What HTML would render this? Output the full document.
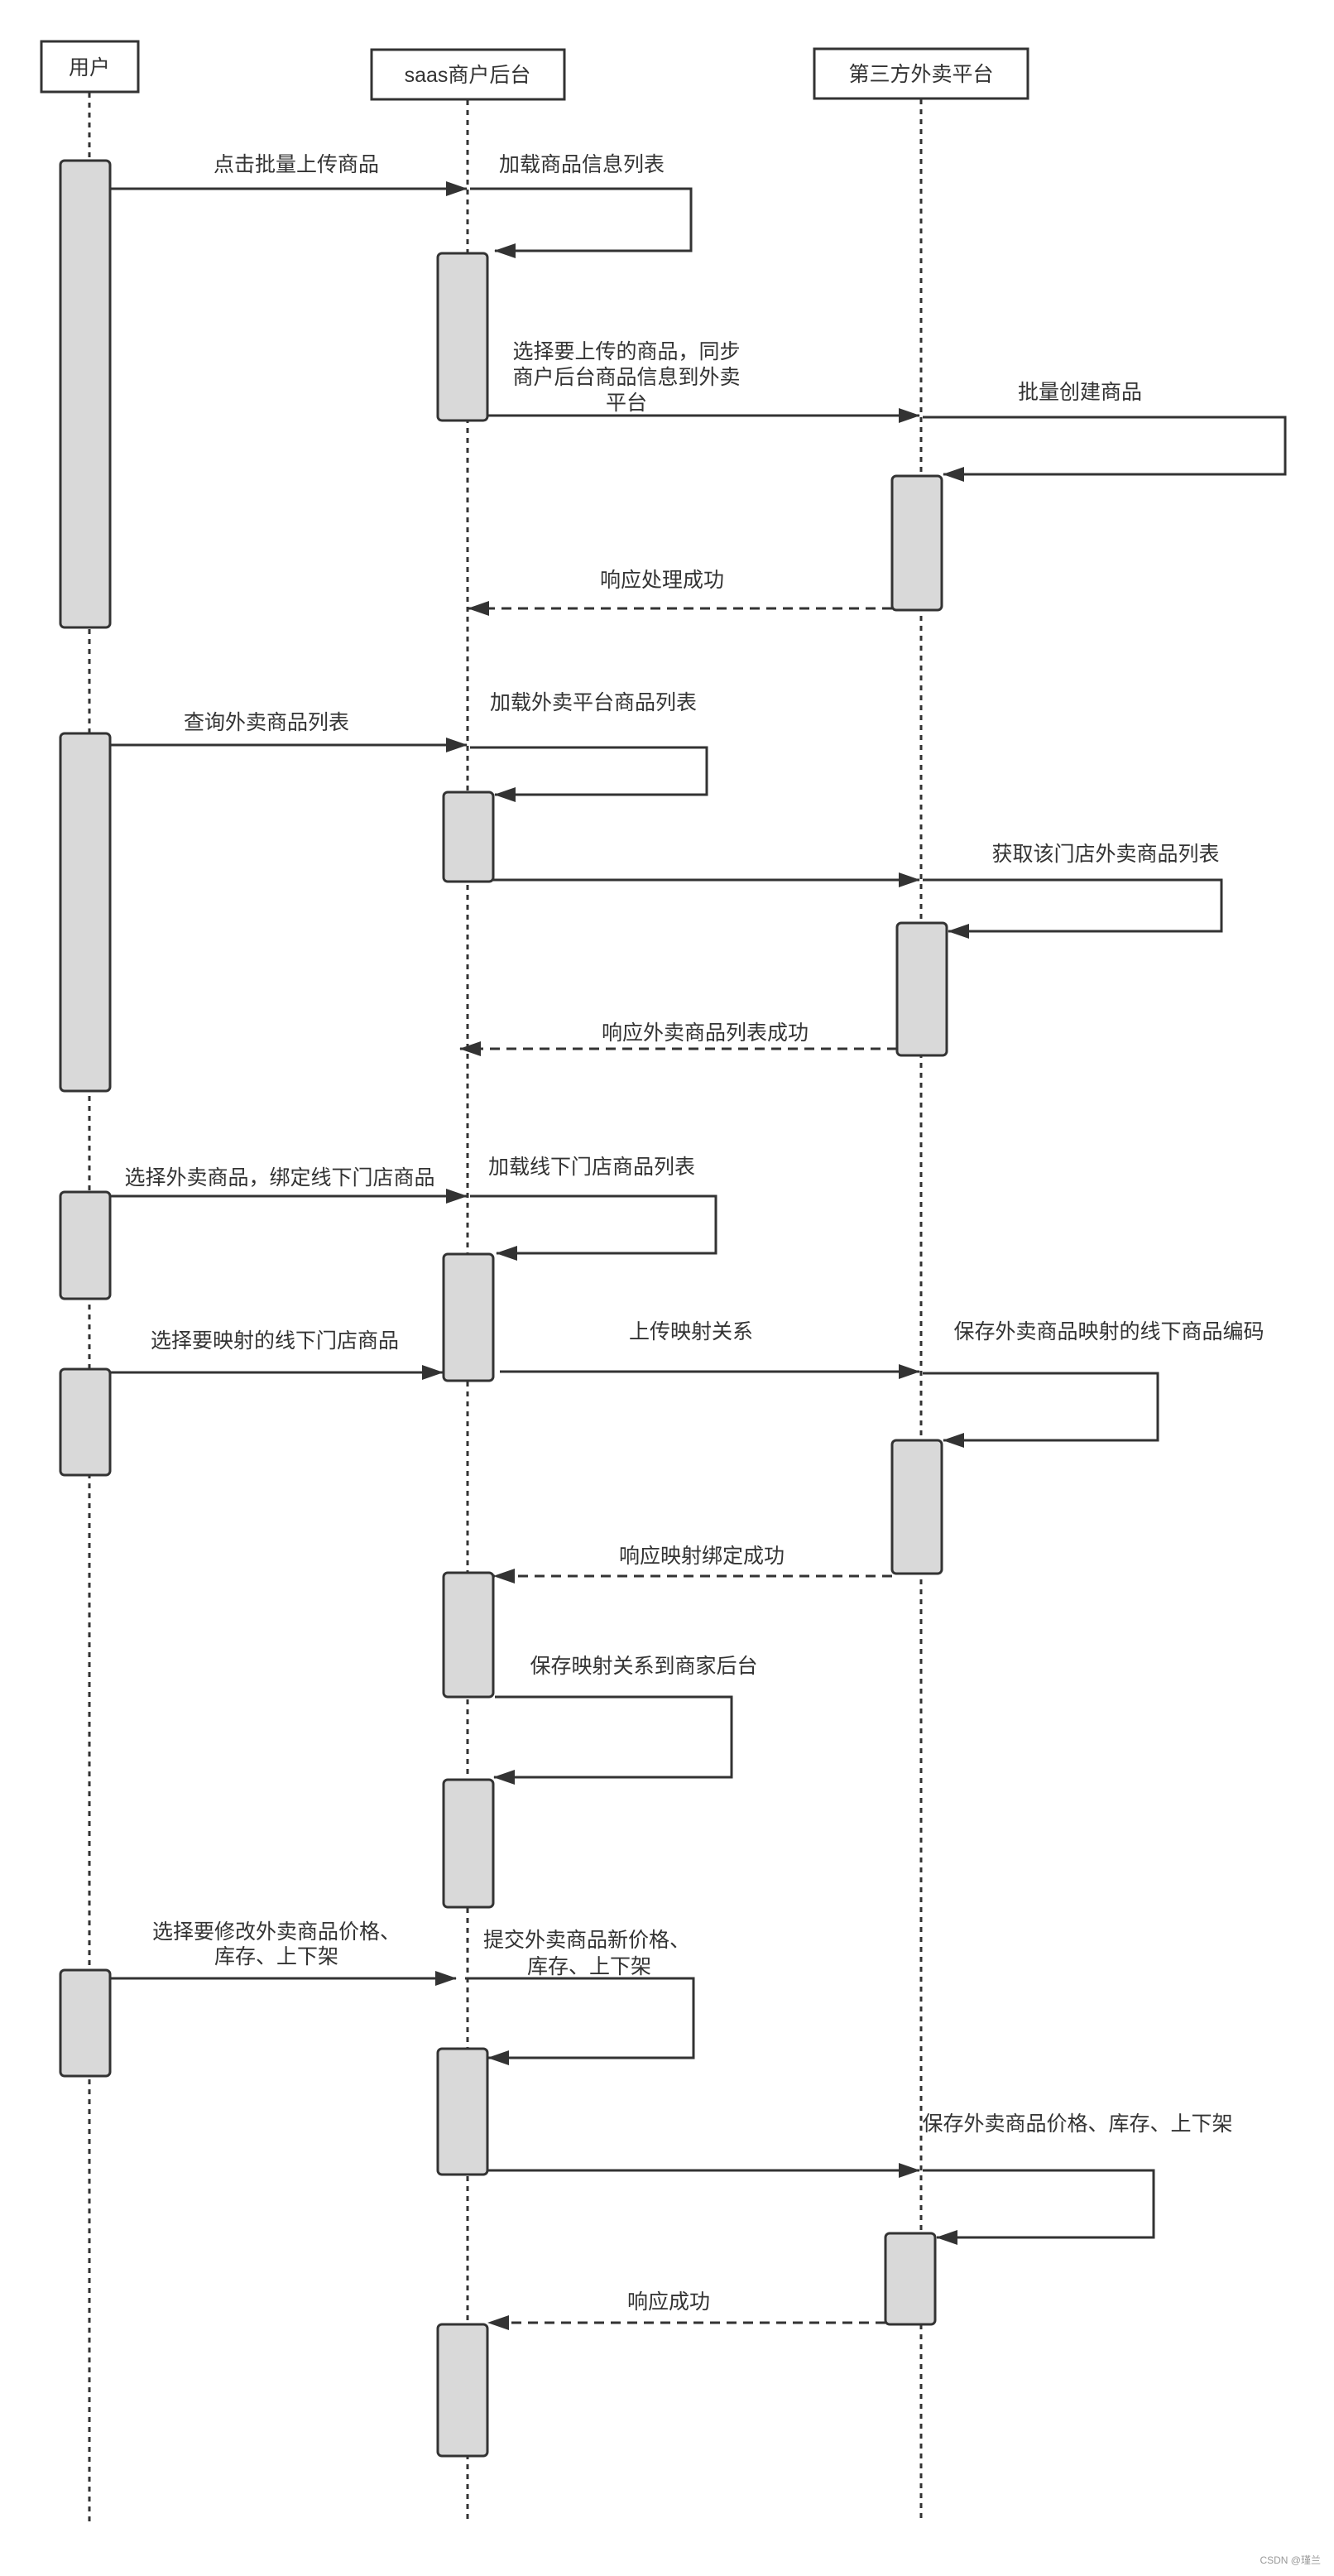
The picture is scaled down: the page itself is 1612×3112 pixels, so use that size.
<!DOCTYPE html>
<html><head><meta charset="utf-8"><style>
html,body{margin:0;padding:0;background:#fff;}
svg{display:block;}
text{font-family:"Liberation Sans","Noto Sans CJK SC",sans-serif;font-size:25px;fill:#333;}
</style></head><body>
<svg width="1612" height="3112" viewBox="0 0 1612 3112" xmlns="http://www.w3.org/2000/svg">
<defs>
<marker id="ah" markerWidth="26" markerHeight="20" refX="25" refY="10" orient="auto" markerUnits="userSpaceOnUse">
<path d="M0,1 L26,10 L0,19 Z" fill="#333"/>
</marker>
</defs>
<g fill="#fff" stroke="#333" stroke-width="3">
<rect x="50" y="50" width="117" height="61"/>
<rect x="449" y="60" width="233" height="60"/>
<rect x="984" y="59" width="258" height="60"/>
</g>
<text x="108" y="90" text-anchor="middle">用户</text>
<text x="565" y="99" text-anchor="middle">saas商户后台</text>
<text x="1113" y="98" text-anchor="middle">第三方外卖平台</text>
<g stroke="#333" stroke-width="3" stroke-dasharray="6 6">
<line x1="108" y1="112" x2="108" y2="3050"/>
<line x1="565" y1="121" x2="565" y2="3046"/>
<line x1="1113" y1="120" x2="1113" y2="3046"/>
</g>
<g fill="#d9d9d9" stroke="#333" stroke-width="3">
<rect x="73" y="194" width="60" height="564" rx="5"/>
<rect x="73" y="886" width="60" height="432" rx="5"/>
<rect x="73" y="1440" width="60" height="129" rx="5"/>
<rect x="73" y="1654" width="60" height="128" rx="5"/>
<rect x="73" y="2380" width="60" height="128" rx="5"/>
<rect x="529" y="306" width="60" height="202" rx="5"/>
<rect x="536" y="957" width="60" height="108" rx="5"/>
<rect x="536" y="1515" width="60" height="153" rx="5"/>
<rect x="536" y="1900" width="60" height="150" rx="5"/>
<rect x="536" y="2150" width="60" height="154" rx="5"/>
<rect x="529" y="2475" width="60" height="152" rx="5"/>
<rect x="529" y="2808" width="60" height="159" rx="5"/>
<rect x="1078" y="575" width="60" height="162" rx="5"/>
<rect x="1084" y="1115" width="60" height="160" rx="5"/>
<rect x="1078" y="1740" width="60" height="161" rx="5"/>
<rect x="1070" y="2698" width="60" height="110" rx="5"/>
</g>
<g stroke="#333" stroke-width="3" fill="none" marker-end="url(#ah)">
<line x1="133" y1="228" x2="564" y2="228"/>
<polyline points="568,228 835,228 835,303 598,303"/>
<line x1="589" y1="502" x2="1111" y2="502"/>
<polyline points="1115,504 1553,504 1553,573 1140,573"/>
<line x1="1078" y1="735" x2="566" y2="735" stroke-dasharray="12 8"/>

<line x1="133" y1="900" x2="564" y2="900"/>
<polyline points="568,903 854,903 854,960 598,960"/>
<line x1="596" y1="1063" x2="1111" y2="1063"/>
<polyline points="1115,1063 1476,1063 1476,1125 1146,1125"/>
<line x1="1084" y1="1267" x2="556" y2="1267" stroke-dasharray="12 8"/>

<line x1="133" y1="1445" x2="564" y2="1445"/>
<polyline points="568,1445 865,1445 865,1514 600,1514"/>
<line x1="133" y1="1658" x2="535" y2="1658"/>
<line x1="604" y1="1657" x2="1111" y2="1657"/>
<polyline points="1115,1659 1399,1659 1399,1740 1140,1740"/>
<line x1="1078" y1="1904" x2="597" y2="1904" stroke-dasharray="12 8"/>
<polyline points="598,2050 884,2050 884,2147 597,2147"/>

<line x1="133" y1="2390" x2="551" y2="2390"/>
<polyline points="562,2390 838,2390 838,2486 590,2486"/>
<line x1="589" y1="2622" x2="1111" y2="2622"/>
<polyline points="1115,2622 1394,2622 1394,2703 1132,2703"/>
<line x1="1070" y1="2806" x2="590" y2="2806" stroke-dasharray="12 8"/>
</g>
<text x="358" y="207" text-anchor="middle">点击批量上传商品</text>
<text x="603" y="207">加载商品信息列表</text>
<text x="757" y="433" text-anchor="middle">选择要上传的商品，同步</text>
<text x="757" y="464" text-anchor="middle">商户后台商品信息到外卖</text>
<text x="757" y="495" text-anchor="middle">平台</text>
<text x="1305" y="482" text-anchor="middle">批量创建商品</text>
<text x="800" y="709" text-anchor="middle">响应处理成功</text>

<text x="322" y="881" text-anchor="middle">查询外卖商品列表</text>
<text x="592" y="857">加载外卖平台商品列表</text>
<text x="1336" y="1040" text-anchor="middle">获取该门店外卖商品列表</text>
<text x="852" y="1256" text-anchor="middle">响应外卖商品列表成功</text>

<text x="338" y="1431" text-anchor="middle">选择外卖商品，绑定线下门店商品</text>
<text x="590" y="1418">加载线下门店商品列表</text>
<text x="332" y="1628" text-anchor="middle">选择要映射的线下门店商品</text>
<text x="835" y="1617" text-anchor="middle">上传映射关系</text>
<text x="1340" y="1617" text-anchor="middle">保存外卖商品映射的线下商品编码</text>
<text x="848" y="1888" text-anchor="middle">响应映射绑定成功</text>
<text x="778" y="2021" text-anchor="middle">保存映射关系到商家后台</text>

<text x="334" y="2342" text-anchor="middle">选择要修改外卖商品价格、</text>
<text x="334" y="2372" text-anchor="middle">库存、上下架</text>
<text x="584" y="2352">提交外卖商品新价格、</text>
<text x="712" y="2384" text-anchor="middle">库存、上下架</text>
<text x="1302" y="2574" text-anchor="middle">保存外卖商品价格、库存、上下架</text>
<text x="808" y="2789" text-anchor="middle">响应成功</text>

<text x="1596" y="3097" text-anchor="end" style="font-size:12px;fill:#999">CSDN @瑾兰</text>
</svg>
</body></html>
